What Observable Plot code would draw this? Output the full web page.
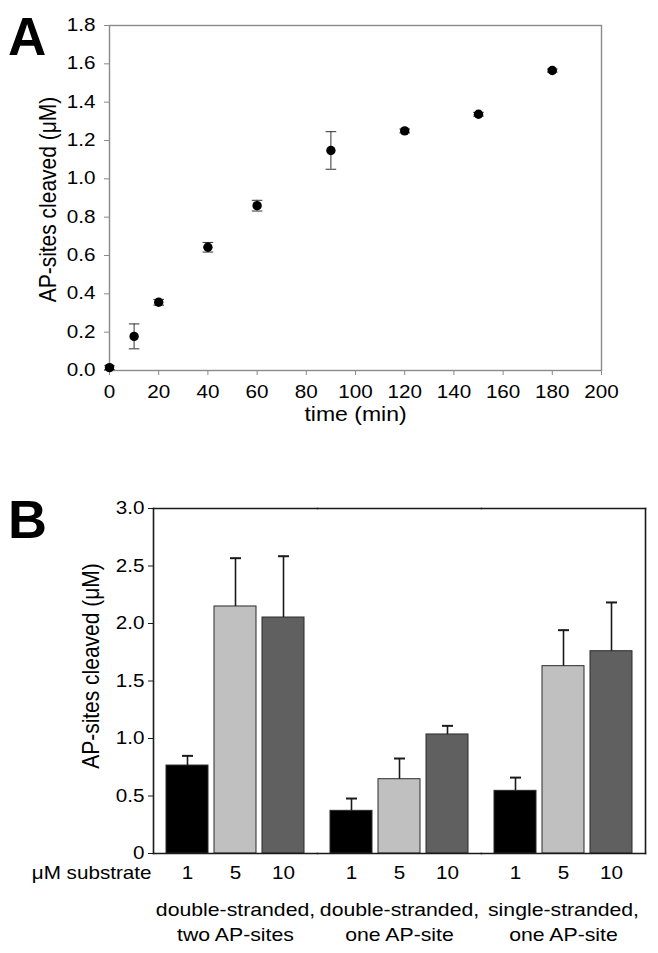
<!DOCTYPE html>
<html>
<head>
<meta charset="utf-8">
<script src="https://cdn.jsdelivr.net/npm/d3@7"></script>
<script src="https://cdn.jsdelivr.net/npm/@observablehq/plot@0.6"></script>
<style>
  body { margin: 0; background: #fff; }
  #wrap { position: relative; width: 658px; height: 953px; overflow: hidden; font-family: "Liberation Sans", Arial, sans-serif; color: #000; }
  .panel { position: absolute; left: 0; }
  .letter { position: absolute; font-weight: bold; line-height: 1; font-family: "Liberation Sans", Arial, sans-serif; }
</style>
</head>
<body>
<div id="wrap">
  <div id="panelA" class="panel" style="top:0px"></div>
  <div id="panelB" class="panel" style="top:470px"></div>
  <div class="letter" style="left:8px; top:10px; font-size:53px;">A</div>
  <div class="letter" style="left:8px; top:492px; font-size:54px;">B</div>
</div>
<script>
// ---------- Panel A data ----------
const times = [0, 10, 20, 40, 60, 90, 120, 150, 180];
const cleaved = [0.015, 0.178, 0.356, 0.643, 0.860, 1.148, 1.250, 1.337, 1.565];
const cleavedErr = [0.010, 0.065, 0.015, 0.025, 0.028, 0.098, 0.010, 0.010, 0.008];
const timeTicks = [0, 20, 40, 60, 80, 100, 120, 140, 160, 180, 200];
const yTicksA = [0, 0.2, 0.4, 0.6, 0.8, 1.0, 1.2, 1.4, 1.6, 1.8];

// ---------- Panel B data ----------
const substrates = ["double-stranded,\ntwo AP-sites", "double-stranded,\none AP-site", "single-stranded,\none AP-site"];
const concentrations = ["1", "5", "10"];
const meansDs2 = [0.765, 2.148, 2.052];
const meansDs1 = [0.371, 0.646, 1.035];
const meansSs1 = [0.545, 1.629, 1.759];
const errDs2 = [0.084, 0.420, 0.533];
const errDs1 = [0.107, 0.180, 0.075];
const errSs1 = [0.115, 0.313, 0.424];
const yTicksB = [0, 0.5, 1.0, 1.5, 2.0, 2.5, 3.0];
const barColors = ["#000000", "#c0c0c0", "#606060"];

const FONT = '"Liberation Sans", Arial, sans-serif';
const STRETCH = 1.18;

// horizontal error-bar cap drawn as a dot symbol
const capSymbol = {
  draw(ctx, size) {
    const w = Math.sqrt(size / Math.PI);
    ctx.moveTo(-w, 0);
    ctx.lineTo(w, 0);
  }
};

function stretchText(svg) {
  svg.querySelectorAll("text").forEach(t => {
    const tr = t.getAttribute("transform") || "";
    if (/rotate\(-90\)/.test(tr)) t.setAttribute("transform", tr + ` scale(1,${STRETCH})`);
    else t.setAttribute("transform", tr + ` scale(${STRETCH},1)`);
  });
}

// ---------- Panel A ----------
const dataA = times.map((t, i) => ({
  t, v: cleaved[i], lo: cleaved[i] - cleavedErr[i], hi: cleaved[i] + cleavedErr[i]
}));

const gridGray = "#8a8a8a";
const plotA = Plot.plot({
  width: 658, height: 430,
  marginTop: 25, marginRight: 57, marginBottom: 60, marginLeft: 109,
  style: { fontFamily: FONT, fontSize: "17.5px", color: "#000", background: "transparent", overflow: "visible" },
  x: { domain: [0, 200] },
  y: { domain: [0, 1.8] },
  marks: [
    Plot.frame({ stroke: gridGray, strokeWidth: 1.4 }),
    Plot.axisX({ ticks: timeTicks, tickSize: 5, tickPadding: 10, stroke: gridGray, fill: "#000", label: null, fontSize: 17.5 }),
    Plot.axisY({ ticks: yTicksA, tickFormat: d3.format(".1f"), tickSize: 5, tickPadding: 9, stroke: gridGray, fill: "#000", label: null, fontSize: 17.5 }),
    Plot.text(["time (min)"], { text: d => d, frameAnchor: "bottom", textAnchor: "middle", lineAnchor: "top", dy: 37, fontSize: 19.5 }),
    Plot.text(["AP-sites cleaved (μM)"], { text: d => d, frameAnchor: "left", textAnchor: "middle", rotate: -90, lineAnchor: "bottom", dx: -54, dy: 1.5, fontSize: 21 }),
    Plot.ruleX(dataA, { x: "t", y1: "lo", y2: "hi", stroke: "#333", strokeWidth: 1 }),
    Plot.dot(dataA, { x: "t", y: "lo", symbol: capSymbol, r: 5.3, stroke: "#333", strokeWidth: 1, fill: "none" }),
    Plot.dot(dataA, { x: "t", y: "hi", symbol: capSymbol, r: 5.3, stroke: "#333", strokeWidth: 1, fill: "none" }),
    Plot.dot(dataA, { x: "t", y: "v", r: 4.7, fill: "#000", stroke: "none" })
  ]
});
stretchText(plotA);
document.getElementById("panelA").appendChild(plotA);

// ---------- Panel B ----------
const meansB = [meansDs2, meansDs1, meansSs1];
const errB = [errDs2, errDs1, errSs1];
const dataB = substrates.flatMap((s, gi) => concentrations.map((c, ci) => ({
  group: s, conc: c, mean: meansB[gi][ci], hi: meansB[gi][ci] + errB[gi][ci]
})));

const dark = "#1a1a1a";
const plotB = Plot.plot({
  width: 658, height: 483,
  marginTop: 38, marginRight: 12, marginBottom: 100, marginLeft: 152,
  style: { fontFamily: FONT, fontSize: "17.5px", color: "#000", background: "transparent", overflow: "visible" },
  fx: { domain: substrates, padding: 0, label: null },
  x: { domain: concentrations, paddingInner: 0.12, paddingOuter: 0.24, label: null },
  y: { domain: [0, 3], label: null },
  color: { domain: concentrations, range: barColors },
  marks: [
    Plot.barY(dataB, { fx: "group", x: "conc", y: "mean", fill: "conc", stroke: "#2a2a2a", strokeWidth: 1 }),
    Plot.ruleX(dataB, { fx: "group", x: "conc", y1: "mean", y2: "hi", stroke: dark, strokeWidth: 1.6 }),
    Plot.dot(dataB, { fx: "group", x: "conc", y: "hi", symbol: capSymbol, r: 5.5, stroke: dark, strokeWidth: 2, fill: "none" }),
    Plot.frame({ anchor: "top", stroke: dark, strokeWidth: 1.6 }),
    Plot.frame({ anchor: "bottom", stroke: dark, strokeWidth: 1.6 }),
    Plot.frame({ anchor: "left", facetAnchor: "left", stroke: dark, strokeWidth: 1.6 }),
    Plot.frame({ anchor: "right", facetAnchor: "right", stroke: dark, strokeWidth: 1.6 }),
    Plot.axisY({ ticks: yTicksB, tickFormat: d => d === 0 ? "0" : d.toFixed(1), tickSize: 5, tickPadding: 4, stroke: dark, fill: "#000", label: null, fontSize: 17.5 }),
    Plot.axisX({ tickSize: 0, tickPadding: 13, label: null, fontSize: 17.5 }),
    Plot.axisFx({ anchor: "bottom", tickSize: 0, tickPadding: 45, label: null, fontSize: 18, lineHeight: 1.38 }),
    Plot.text(["μM substrate"], { text: d => d, frameAnchor: "bottom-left", facetAnchor: "left", textAnchor: "end", lineAnchor: "top", dx: -2, dy: 13, fontSize: 17.5 }),
    Plot.text(["AP-sites cleaved (μM)"], { text: d => d, frameAnchor: "left", facetAnchor: "left", textAnchor: "middle", rotate: -90, lineAnchor: "bottom", dx: -54.5, dy: -15, fontSize: 21 })
  ]
});
stretchText(plotB);
document.getElementById("panelB").appendChild(plotB);
</script>
</body>
</html>
